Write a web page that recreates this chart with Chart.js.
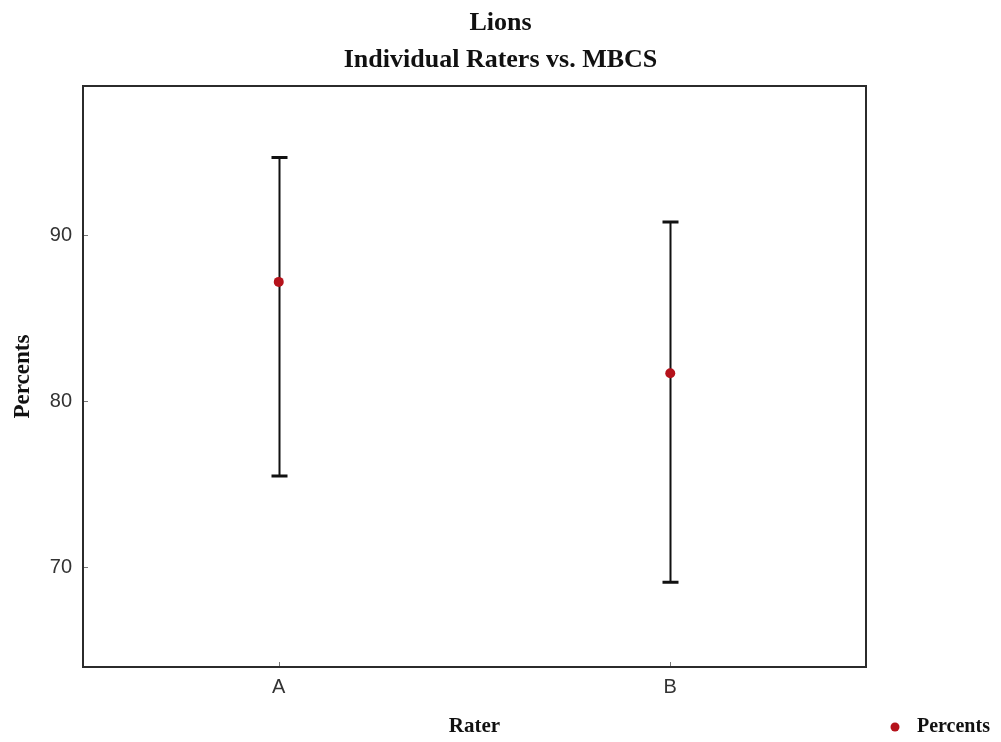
<!DOCTYPE html>
<html>
<head>
<meta charset="utf-8">
<title>Lions - Individual Raters vs. MBCS</title>
<script src="https://cdn.jsdelivr.net/npm/chart.js@4"></script>
<style>
  html, body { margin: 0; padding: 0; background: #fff; }
  #chart { display: block; }
</style>
</head>
<body>
<canvas id="chart" width="1001" height="742"></canvas>
<script>
// Data
const raters = ["A", "B"];
const means = [87.2, 81.7];
const upperLimits = [94.7, 90.8];
const lowerLimits = [75.5, 69.1];
const yTickValues = [70, 80, 90];
const yMin = 64;
const yMax = 99;

const pointColor = "#b5121b";
const serif = "'Liberation Serif', 'Times New Roman', serif";
const sans = "'Liberation Sans', Arial, sans-serif";

// frame round the plot, inward ticks and error bars
const errorBarPlugin = {
  id: "errorBars",
  beforeDatasetsDraw(chart) {
    const { ctx, chartArea, scales } = chart;
    const x = scales.x;
    const y = scales.y;
    ctx.save();

    // inward tick marks
    ctx.strokeStyle = "#777";
    ctx.lineWidth = 1;
    yTickValues.forEach((v) => {
      const py = Math.round(y.getPixelForValue(v)) + 0.5;
      ctx.beginPath();
      ctx.moveTo(chartArea.left, py);
      ctx.lineTo(chartArea.left + 5, py);
      ctx.stroke();
    });
    raters.forEach((r, i) => {
      const px = Math.round(x.getPixelForValue(i)) + 0.5;
      ctx.beginPath();
      ctx.moveTo(px, chartArea.bottom);
      ctx.lineTo(px, chartArea.bottom - 5);
      ctx.stroke();
    });

    // frame
    ctx.strokeStyle = "#2b2b2b";
    ctx.lineWidth = 2;
    ctx.strokeRect(chartArea.left, chartArea.top,
      chartArea.right - chartArea.left, chartArea.bottom - chartArea.top);

    // error bars
    ctx.strokeStyle = "#111";
    raters.forEach((r, i) => {
      const px = Math.round(x.getPixelForValue(i)) + 0.5;
      const top = y.getPixelForValue(upperLimits[i]);
      const bot = y.getPixelForValue(lowerLimits[i]);
      ctx.lineWidth = 2;
      ctx.beginPath();
      ctx.moveTo(px, top);
      ctx.lineTo(px, bot);
      ctx.stroke();
      ctx.lineWidth = 3;
      ctx.beginPath();
      ctx.moveTo(px - 8, top);
      ctx.lineTo(px + 8, top);
      ctx.moveTo(px - 8, bot);
      ctx.lineTo(px + 8, bot);
      ctx.stroke();
    });
    ctx.restore();
  },
  afterDraw(chart) {
    // legend in the bottom right corner
    const { ctx, chartArea } = chart;
    const lx = chartArea.right + 29;
    const ly = 727;
    ctx.save();
    ctx.fillStyle = pointColor;
    ctx.beginPath();
    ctx.arc(lx, ly, 4.5, 0, Math.PI * 2);
    ctx.fill();
    ctx.fillStyle = "#111";
    ctx.font = "bold 20px " + serif;
    ctx.textAlign = "left";
    ctx.textBaseline = "middle";
    ctx.fillText(chart.data.datasets[0].label, lx + 22, ly);
    ctx.restore();
  },
};

const ctx = document.getElementById("chart").getContext("2d");
const chart = new Chart(ctx, {
  type: "line",
  data: {
    labels: raters,
    datasets: [
      {
        label: "Percents",
        data: means,
        showLine: false,
        pointRadius: 5,
        pointBackgroundColor: pointColor,
        pointBorderColor: pointColor,
        pointBorderWidth: 0,
      },
    ],
  },
  options: {
    responsive: false,
    animation: false,
    layout: { padding: 0 },
    plugins: {
      legend: { display: false },
      tooltip: { enabled: false },
      title: {
        display: true,
        text: "Lions",
        color: "#111",
        font: { family: serif, size: 26, weight: "bold" },
        padding: { top: 8, bottom: 0 },
      },
      subtitle: {
        display: true,
        text: "Individual Raters vs. MBCS",
        color: "#111",
        font: { family: serif, size: 26, weight: "bold" },
        padding: { top: 5, bottom: 10.6 },
      },
    },
    scales: {
      x: {
        type: "category",
        offset: true,
        grid: { display: false, drawTicks: false },
        border: { display: false },
        ticks: {
          color: "#333",
          font: { family: sans, size: 20 },
          padding: 8,
        },
        title: {
          display: true,
          text: "Rater",
          color: "#111",
          font: { family: serif, size: 21, weight: "bold" },
          padding: { top: 0, bottom: 3 },
        },
        afterFit(scale) {
          scale.height = 75;
        },
      },
      y: {
        min: yMin,
        max: yMax,
        grid: { display: false, drawTicks: false },
        border: { display: false },
        ticks: {
          color: "#333",
          font: { family: sans, size: 20 },
          padding: 11,
        },
        afterBuildTicks(scale) {
          scale.ticks = yTickValues.map((v) => ({ value: v }));
        },
        title: {
          display: true,
          text: "Percents",
          color: "#111",
          font: { family: serif, size: 23, weight: "bold" },
          padding: { top: 9, bottom: 0 },
        },
        afterFit(scale) {
          scale.width = 83;
        },
      },
      // empty right-hand strip that holds the legend column
      side: {
        axis: "y",
        position: "right",
        min: yMin,
        max: yMax,
        grid: { display: false, drawTicks: false },
        border: { display: false },
        ticks: { display: false },
        afterFit(scale) {
          scale.width = 135;
        },
      },
    },
  },
  plugins: [errorBarPlugin],
});
</script>
</body>
</html>
